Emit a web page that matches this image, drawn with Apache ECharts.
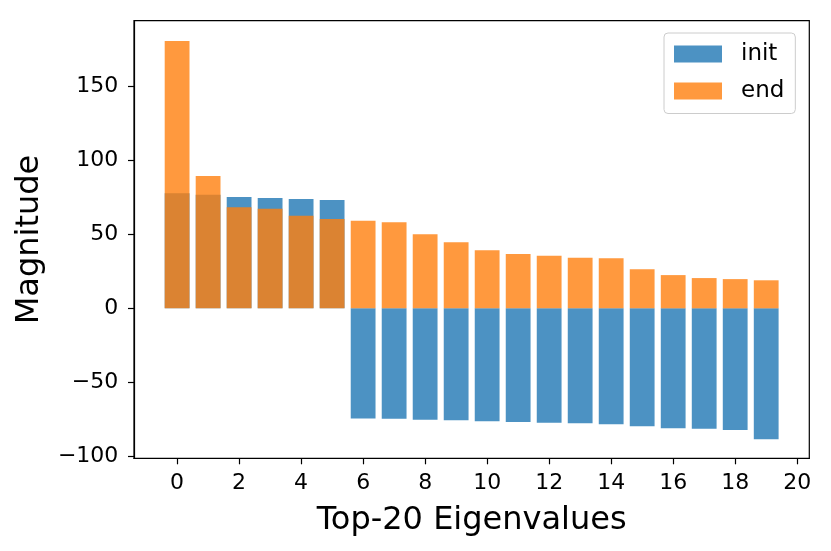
<!DOCTYPE html>
<html>
<head>
<meta charset="utf-8">
<script src="https://cdn.jsdelivr.net/npm/echarts@6/dist/echarts.min.js"></script>
<style>
  html, body { margin: 0; padding: 0; background: #fff; }
  #chart { width: 831px; height: 551px; }
</style>
</head>
<body>
<div id="chart"></div>
<script>
// eigenvalue index 0..19
var indices = [0, 1, 2, 3, 4, 5, 6, 7, 8, 9, 10, 11, 12, 13, 14, 15, 16, 17, 18, 19];
var initValues = [77.5, 76.6, 75.0, 74.4, 73.7, 73.0, -74.2, -74.4, -75.1, -75.5,
                  -76.2, -76.6, -77.1, -77.5, -78.2, -79.5, -80.9, -81.2, -82.0, -88.3];
var endValues = [180.2, 89.2, 68.1, 67.2, 62.4, 60.2, 59.1, 58.1, 49.9, 44.5,
                 39.1, 36.6, 35.5, 34.1, 33.7, 26.3, 22.4, 20.4, 19.7, 18.9];
var xTicks = [0, 2, 4, 6, 8, 10, 12, 14, 16, 18, 20];
var yTicks = [-100, -50, 0, 50, 100, 150];

var font = 'DejaVu Sans';

function pairs(vals) {
    return indices.map(function (x, i) { return [x, vals[i]]; });
}

var chart = echarts.init(document.getElementById('chart'));

chart.setOption({
    animation: false,
    grid: {
        left: 134,
        top: 20.7,
        right: 21.7,
        bottom: 92.7,
        show: true,
        borderColor: '#000',
        borderWidth: 1.2
    },
    legend: {
        orient: 'vertical',
        left: 664,
        top: 33,
        padding: [9.5, 11, 11, 10],
        itemWidth: 48,
        itemHeight: 17,
        itemGap: 14,
        icon: 'rect',
        borderColor: '#cccccc',
        borderWidth: 1,
        borderRadius: 4,
        textStyle: {
            fontFamily: font,
            fontSize: 23,
            color: '#000',
            padding: [0, 0, 0, 14]
        },
        data: ['init', 'end']
    },
    xAxis: {
        type: 'value',
        min: -1.39,
        max: 20.39,
        name: 'Top-20 Eigenvalues',
        nameLocation: 'middle',
        nameGap: 46,
        nameTextStyle: { fontFamily: font, fontSize: 32, color: '#000' },
        axisLine: { onZero: false, lineStyle: { color: '#000', width: 1.2 } },
        axisTick: { show: true, length: 6, lineStyle: { color: '#000', width: 1.2 }, customValues: xTicks },
        axisLabel: { fontFamily: font, fontSize: 22, color: '#000', margin: 14, customValues: xTicks },
        splitLine: { show: false }
    },
    yAxis: {
        type: 'value',
        min: -101.1,
        max: 193.9,
        name: 'Magnitude',
        nameLocation: 'middle',
        nameGap: 88,
        nameTextStyle: { fontFamily: font, fontSize: 32, color: '#000' },
        axisLine: { show: true, onZero: false, lineStyle: { color: '#000', width: 1.2 } },
        axisTick: { show: true, length: 6, lineStyle: { color: '#000', width: 1.2 }, customValues: yTicks },
        axisLabel: {
            fontFamily: font, fontSize: 22, color: '#000', margin: 15.7,
            customValues: yTicks,
            formatter: function (v) { return String(v).replace('-', '\u2212'); }
        },
        splitLine: { show: false }
    },
    series: [
        {
            name: 'init',
            type: 'bar',
            barWidth: 24.8,
            barGap: '-100%',
            itemStyle: { color: 'rgba(31,119,180,0.8)' },
            data: pairs(initValues)
        },
        {
            name: 'end',
            type: 'bar',
            barWidth: 24.8,
            barGap: '-100%',
            itemStyle: { color: 'rgba(255,127,14,0.8)' },
            data: pairs(endValues)
        }
    ]
});
</script>
</body>
</html>
